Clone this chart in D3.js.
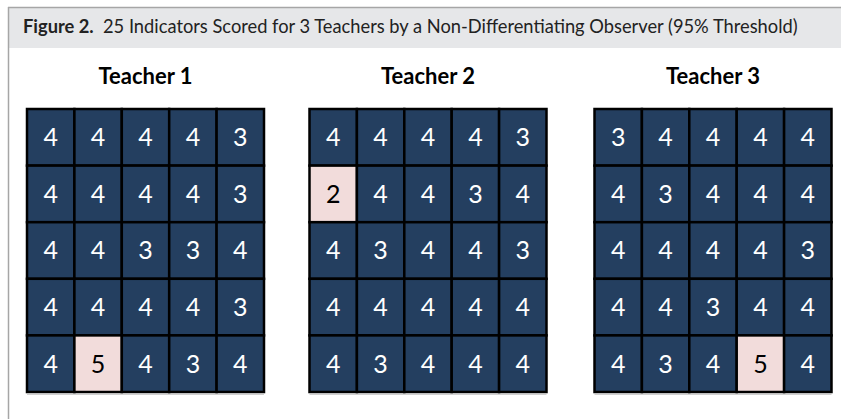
<!DOCTYPE html>
<html><head><meta charset="utf-8">
<script src="https://cdn.jsdelivr.net/npm/d3@7"></script>
<style>body{margin:0;background:#fff;} text{font-family:Lato,"Open Sans",sans-serif;}</style>
</head><body>
<svg id="c" width="841" height="419"></svg>
<script>
const teachers = ["Teacher 1", "Teacher 2", "Teacher 3"];
const teacher1 = [[4,4,4,4,3],[4,4,4,4,3],[4,4,3,3,4],[4,4,4,4,3],[4,5,4,3,4]];
const teacher2 = [[4,4,4,4,3],[2,4,4,3,4],[4,3,4,4,3],[4,4,4,4,4],[4,3,4,4,4]];
const teacher3 = [[3,4,4,4,4],[4,3,4,4,4],[4,4,4,4,3],[4,4,3,4,4],[4,3,4,5,4]];
const grids = [teacher1, teacher2, teacher3];
const titleBold = "Figure 2.";
const titleRest = "25 Indicators Scored for 3 Teachers by a Non-Differentiating Observer (95% Threshold)";

const svg = d3.select("#c");
// frame
svg.append("rect").attr("x",8).attr("y",7).attr("width",841).attr("height",41).attr("fill","#e6e7e9");
svg.append("line").attr("x1",8).attr("x2",841).attr("y1",7.5).attr("y2",7.5).attr("stroke","#a6a6a6").attr("stroke-width",1.5);
svg.append("line").attr("x1",8.5).attr("x2",8.5).attr("y1",7).attr("y2",419).attr("stroke","#a6a6a6").attr("stroke-width",1.5);

function fit(sel, target){ const w = sel.node().getComputedTextLength(); const fs = parseFloat(sel.attr("font-size")); sel.attr("font-size", fs*target/w); }

const t = svg.append("text").attr("x",23).attr("y",33).attr("font-size",16).attr("fill","#222");
t.append("tspan").attr("font-weight","bold").text(titleBold);
t.append("tspan").text("\u00a0 " + titleRest);
fit(t, 775);

const gridX = d3.scaleOrdinal().domain(teachers).range([27, 309.5, 594.5]);
const gw = 237, gh = 283;
const colScale = d3.scaleBand().domain(d3.range(5)).range([0, gw]);
const rowScale = d3.scaleBand().domain(d3.range(5)).range([0, gh]);
const fill = v => (v === 3 || v === 4) ? "#243f60" : "#f2dcdb";
const txt = v => (v === 3 || v === 4) ? "#ffffff" : "#000000";

teachers.forEach((name, i) => {
  const g = svg.append("g").attr("transform", `translate(${gridX(name)},109)`);
  const lab = g.append("text").attr("x", gw/2).attr("y", -25).attr("text-anchor","middle")
    .attr("font-weight","bold").attr("font-size",19).attr("fill","#000").text(name);
  fit(lab, 94);
  const cells = [];
  grids[i].forEach((row, r) => row.forEach((v, c) => cells.push({r, c, v})));
  const cg = g.selectAll("g.cell").data(cells).join("g").attr("class","cell")
    .attr("transform", d => `translate(${colScale(d.c)},${rowScale(d.r)})`);
  cg.append("rect").attr("width", colScale.bandwidth()).attr("height", rowScale.bandwidth())
    .attr("fill", d => fill(d.v)).attr("stroke","#000").attr("stroke-width",2.5);
  cg.append("text").attr("x", colScale.bandwidth()/2).attr("y", rowScale.bandwidth()/2 + 9)
    .attr("text-anchor","middle").attr("font-size",25).attr("fill", d => txt(d.v)).text(d => d.v);
  g.append("line").attr("x1",0).attr("x2",gw).attr("y1",gh+2.5).attr("y2",gh+2.5).attr("stroke","#d0d0d0").attr("stroke-width",1);
});
</script>
</body></html>
